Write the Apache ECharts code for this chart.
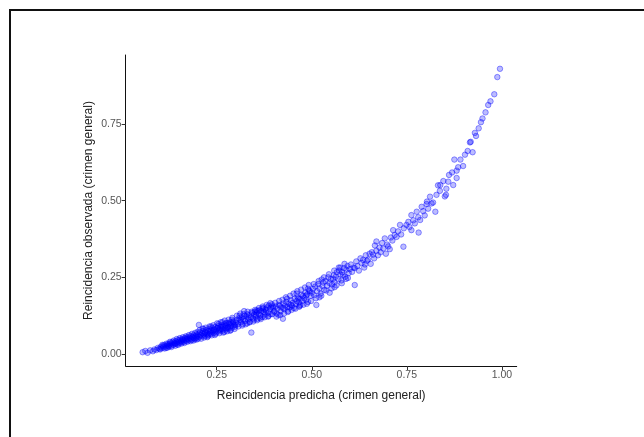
<!doctype html>
<html>
<head>
    <meta charset="utf-8">
    <title>Reincidencia</title>
    <style type="text/css">
        body, html {
            width: 100%;
            height: 100%;
            margin: 0;
            padding: 0;
            background: #fff;
        }
    </style>
</head>

<body>

<div id="container" style="width: 644px; height: 437px"></div>

<script type="text/javascript" src="https://fastly.jsdelivr.net/npm/echarts@6.0.0/dist/echarts.min.js"></script>

<script type="text/javascript">
    // tick labels
    const xTicks = [0.25, 0.5, 0.75, 1.0];
    const yTicks = [0, 0.25, 0.5, 0.75];

    // [predicha, observada]
    const pointsLow = [
        [0.055, 0.006], [0.062, 0.010], [0.068, 0.004], [0.075, 0.012], [0.082, 0.009], [0.086, 0.015],
        [0.091, 0.013], [0.095, 0.020], [0.099, 0.017], [0.103, 0.024],
        [0.105, 0.019], [0.108, 0.026], [0.110, 0.022], [0.112, 0.030], [0.115, 0.025], [0.117, 0.020],
        [0.120, 0.028], [0.122, 0.033], [0.124, 0.024], [0.126, 0.031], [0.128, 0.037], [0.130, 0.027],
        [0.132, 0.034], [0.134, 0.040], [0.136, 0.030], [0.138, 0.036], [0.140, 0.033], [0.142, 0.042],
        [0.144, 0.038], [0.146, 0.031], [0.148, 0.045], [0.150, 0.040], [0.152, 0.036], [0.154, 0.047],
        [0.156, 0.042], [0.158, 0.038], [0.160, 0.049], [0.162, 0.044], [0.164, 0.040], [0.166, 0.052],
        [0.168, 0.047], [0.170, 0.043], [0.172, 0.055], [0.174, 0.049], [0.176, 0.045], [0.178, 0.053],
        [0.180, 0.058], [0.182, 0.050], [0.184, 0.046], [0.186, 0.056], [0.188, 0.061], [0.190, 0.052],
        [0.192, 0.048], [0.194, 0.058], [0.196, 0.064], [0.198, 0.055], [0.200, 0.060], [0.201, 0.050],
        [0.203, 0.095],
        [0.101, 0.015], [0.107, 0.030], [0.113, 0.018], [0.118, 0.034], [0.121, 0.021], [0.127, 0.040],
        [0.131, 0.023], [0.137, 0.044], [0.141, 0.027], [0.145, 0.049], [0.149, 0.030], [0.153, 0.052],
        [0.157, 0.034], [0.161, 0.055], [0.165, 0.036], [0.169, 0.058], [0.173, 0.040], [0.177, 0.062],
        [0.181, 0.042], [0.185, 0.066], [0.189, 0.044], [0.193, 0.069], [0.197, 0.047], [0.199, 0.072],
        [0.143, 0.035], [0.159, 0.045], [0.171, 0.050], [0.187, 0.054], [0.195, 0.052], [0.123, 0.027]
    ];
    const pointsMid = [
        [0.202, 0.066], [0.204, 0.056], [0.206, 0.071], [0.208, 0.062], [0.210, 0.058], [0.212, 0.068],
        [0.214, 0.075], [0.216, 0.064], [0.218, 0.059], [0.220, 0.072], [0.222, 0.078], [0.224, 0.067],
        [0.226, 0.062], [0.228, 0.075], [0.230, 0.082], [0.232, 0.070], [0.234, 0.065], [0.236, 0.078],
        [0.238, 0.085], [0.240, 0.073], [0.242, 0.068], [0.244, 0.081], [0.246, 0.088], [0.248, 0.076],
        [0.250, 0.071], [0.252, 0.084], [0.254, 0.091], [0.256, 0.079], [0.258, 0.074], [0.260, 0.087],
        [0.262, 0.094], [0.264, 0.082], [0.266, 0.077], [0.268, 0.090], [0.270, 0.097], [0.272, 0.085],
        [0.274, 0.080], [0.276, 0.093], [0.278, 0.101], [0.280, 0.088], [0.282, 0.083], [0.284, 0.096],
        [0.286, 0.104], [0.288, 0.091], [0.290, 0.086], [0.292, 0.099], [0.294, 0.107], [0.296, 0.094],
        [0.298, 0.089], [0.300, 0.102], [0.215, 0.082], [0.235, 0.090], [0.255, 0.098], [0.270, 0.072],
        [0.285, 0.076], [0.245, 0.062], [0.225, 0.055], [0.265, 0.104], [0.290, 0.112], [0.275, 0.101],
        [0.205, 0.078], [0.209, 0.050], [0.213, 0.083], [0.217, 0.054], [0.221, 0.086], [0.227, 0.058],
        [0.231, 0.090], [0.237, 0.061], [0.241, 0.094], [0.247, 0.066], [0.251, 0.100], [0.257, 0.068],
        [0.261, 0.104], [0.267, 0.070], [0.271, 0.109], [0.277, 0.074], [0.281, 0.112], [0.287, 0.078],
        [0.291, 0.118], [0.297, 0.082], [0.219, 0.068], [0.233, 0.076], [0.243, 0.078], [0.253, 0.086],
        [0.263, 0.090], [0.273, 0.092], [0.283, 0.100], [0.293, 0.104], [0.229, 0.064], [0.259, 0.080],
        [0.279, 0.085], [0.299, 0.095],
        [0.302, 0.110], [0.305, 0.097], [0.308, 0.116], [0.311, 0.112], [0.313, 0.104], [0.316, 0.120],
        [0.318, 0.098], [0.320, 0.114], [0.323, 0.125], [0.325, 0.108], [0.328, 0.122], [0.330, 0.130],
        [0.332, 0.113], [0.335, 0.127], [0.337, 0.105], [0.340, 0.120], [0.341, 0.070], [0.343, 0.134],
        [0.345, 0.116], [0.348, 0.129], [0.350, 0.138], [0.352, 0.122], [0.355, 0.135], [0.357, 0.115],
        [0.360, 0.131], [0.362, 0.143], [0.365, 0.126], [0.367, 0.140], [0.370, 0.121], [0.372, 0.148],
        [0.375, 0.136], [0.377, 0.129], [0.380, 0.142], [0.382, 0.152], [0.385, 0.135], [0.387, 0.158],
        [0.390, 0.146], [0.392, 0.130], [0.395, 0.162], [0.397, 0.156], [0.400, 0.138], [0.310, 0.125],
        [0.330, 0.100], [0.355, 0.142], [0.370, 0.150], [0.385, 0.122], [0.398, 0.150], [0.348, 0.112],
        [0.364, 0.118], [0.378, 0.146],
        [0.303, 0.125], [0.307, 0.090], [0.312, 0.132], [0.317, 0.093], [0.321, 0.130], [0.326, 0.097],
        [0.331, 0.138], [0.336, 0.103], [0.342, 0.138], [0.346, 0.106], [0.351, 0.144], [0.356, 0.110],
        [0.361, 0.150], [0.366, 0.114], [0.371, 0.155], [0.376, 0.120], [0.381, 0.160], [0.386, 0.124],
        [0.391, 0.166], [0.396, 0.130], [0.314, 0.110], [0.334, 0.118], [0.353, 0.128], [0.373, 0.138],
        [0.393, 0.152], [0.322, 0.140], [0.358, 0.140],
        [0.402, 0.140], [0.405, 0.155], [0.408, 0.132], [0.410, 0.148], [0.413, 0.160], [0.416, 0.158],
        [0.418, 0.140], [0.420, 0.152], [0.424, 0.115], [0.425, 0.165], [0.428, 0.146], [0.430, 0.158],
        [0.433, 0.170], [0.436, 0.153], [0.438, 0.140], [0.440, 0.163], [0.442, 0.152], [0.445, 0.175],
        [0.448, 0.157], [0.450, 0.167], [0.453, 0.150], [0.455, 0.180], [0.458, 0.163], [0.460, 0.173],
        [0.463, 0.185], [0.466, 0.168], [0.468, 0.157], [0.470, 0.180], [0.473, 0.193], [0.475, 0.173],
        [0.477, 0.190], [0.480, 0.183], [0.483, 0.200], [0.485, 0.177], [0.488, 0.195], [0.490, 0.170],
        [0.493, 0.207], [0.495, 0.205], [0.497, 0.190], [0.500, 0.200], [0.435, 0.180], [0.460, 0.197],
        [0.470, 0.160], [0.490, 0.213], [0.412, 0.128],
        [0.404, 0.167], [0.407, 0.122], [0.414, 0.173], [0.417, 0.127], [0.423, 0.177], [0.427, 0.132],
        [0.432, 0.185], [0.437, 0.137], [0.443, 0.190], [0.447, 0.144], [0.452, 0.197], [0.457, 0.148],
        [0.462, 0.205], [0.467, 0.154], [0.472, 0.210], [0.478, 0.161], [0.482, 0.217], [0.487, 0.164],
        [0.492, 0.225], [0.498, 0.173], [0.425, 0.150], [0.445, 0.160], [0.465, 0.180], [0.485, 0.190]
    ];
    const pointsHigh = [
        [0.503, 0.212], [0.506, 0.192], [0.509, 0.220], [0.512, 0.160], [0.514, 0.205], [0.517, 0.228],
        [0.520, 0.214], [0.523, 0.197], [0.526, 0.243], [0.528, 0.222], [0.530, 0.233], [0.533, 0.209],
        [0.536, 0.238], [0.540, 0.223], [0.543, 0.250], [0.546, 0.232], [0.547, 0.200], [0.550, 0.244],
        [0.553, 0.227], [0.556, 0.245], [0.558, 0.257], [0.560, 0.234], [0.563, 0.252], [0.566, 0.267],
        [0.570, 0.244], [0.572, 0.272], [0.575, 0.260], [0.578, 0.240], [0.580, 0.267], [0.582, 0.258],
        [0.585, 0.280], [0.588, 0.252], [0.591, 0.275], [0.594, 0.287], [0.597, 0.264], [0.600, 0.277],
        [0.520, 0.185], [0.560, 0.218], [0.590, 0.245], [0.575, 0.282],
        [0.505, 0.228], [0.511, 0.182], [0.518, 0.238], [0.525, 0.190], [0.532, 0.250], [0.538, 0.207],
        [0.545, 0.260], [0.552, 0.214], [0.559, 0.272], [0.565, 0.224], [0.571, 0.282], [0.579, 0.231],
        [0.586, 0.294], [0.595, 0.248],
        [0.603, 0.292], [0.606, 0.268], [0.610, 0.282], [0.613, 0.280], [0.613, 0.225], [0.617, 0.302],
        [0.620, 0.287], [0.624, 0.272], [0.628, 0.312], [0.631, 0.297], [0.635, 0.307], [0.638, 0.282],
        [0.642, 0.322], [0.645, 0.304], [0.648, 0.308], [0.652, 0.327], [0.655, 0.294], [0.658, 0.332],
        [0.661, 0.324], [0.664, 0.312], [0.666, 0.354], [0.670, 0.337], [0.674, 0.322], [0.678, 0.347],
        [0.681, 0.332], [0.685, 0.362], [0.688, 0.344], [0.692, 0.377], [0.695, 0.327], [0.698, 0.357],
        [0.701, 0.351], [0.640, 0.292], [0.670, 0.367],
        [0.705, 0.342], [0.708, 0.380], [0.712, 0.370], [0.714, 0.404], [0.718, 0.388], [0.723, 0.382],
        [0.727, 0.400], [0.732, 0.421], [0.735, 0.390], [0.741, 0.350], [0.742, 0.410], [0.749, 0.421],
        [0.754, 0.431], [0.757, 0.414], [0.762, 0.453], [0.762, 0.404], [0.767, 0.436], [0.771, 0.426],
        [0.776, 0.464], [0.781, 0.396], [0.780, 0.446], [0.785, 0.437], [0.789, 0.480], [0.793, 0.466],
        [0.797, 0.452], [0.803, 0.497], [0.802, 0.489],
        [0.806, 0.474], [0.811, 0.513], [0.815, 0.491], [0.819, 0.494], [0.825, 0.464], [0.828, 0.519],
        [0.832, 0.550], [0.837, 0.532], [0.838, 0.551], [0.846, 0.564], [0.850, 0.514], [0.853, 0.519],
        [0.854, 0.539], [0.859, 0.562], [0.861, 0.584], [0.869, 0.592], [0.872, 0.551], [0.875, 0.634],
        [0.881, 0.598], [0.881, 0.574], [0.885, 0.609], [0.891, 0.634], [0.898, 0.613],
        [0.903, 0.650], [0.910, 0.662], [0.916, 0.690], [0.918, 0.692], [0.923, 0.658], [0.929, 0.721],
        [0.932, 0.711], [0.939, 0.736], [0.945, 0.756], [0.949, 0.768], [0.957, 0.788], [0.964, 0.812],
        [0.970, 0.824], [0.980, 0.847], [0.988, 0.903], [0.995, 0.930]
    ];

    const dom = document.getElementById('container');
    const myChart = echarts.init(dom, null, {
        renderer: 'canvas'
    });

    let option;

    const tickLabel = {
        color: '#555',
        fontSize: 10.5,
        fontFamily: 'Liberation Sans',
        formatter: function (v) { return v.toFixed(2); }
    };

    option = {
        animation: false,
        backgroundColor: '#fff',
        textStyle: { fontFamily: 'Liberation Sans' },
        grid: {
            left: 125.7,
            right: 127.3,
            top: 55,
            bottom: 71
        },
        // marco del recorte (solo arriba e izquierda)
        graphic: [
            { type: 'line', shape: { x1: 9.5, y1: 10, x2: 644, y2: 10 }, style: { stroke: '#111', lineWidth: 2 } },
            { type: 'line', shape: { x1: 10, y1: 9, x2: 10, y2: 437 }, style: { stroke: '#111', lineWidth: 2 } }
        ],
        xAxis: {
            type: 'value',
            min: 0.0105,
            max: 1.039,
            name: 'Reincidencia predicha (crimen general)',
            nameLocation: 'middle',
            nameGap: 24,
            nameMoveOverlap: false,
            nameTextStyle: { color: '#222', fontSize: 12 },
            axisLine: { show: true, onZero: false, lineStyle: { color: '#111', width: 1 } },
            axisTick: { show: true, length: 4, customValues: xTicks, lineStyle: { color: '#333' } },
            axisLabel: Object.assign({ margin: 4, customValues: xTicks }, tickLabel),
            splitLine: { show: false }
        },
        yAxis: {
            type: 'value',
            min: -0.039,
            max: 0.975,
            name: 'Reincidencia observada (crimen general)',
            nameLocation: 'middle',
            nameGap: 31,
            nameMoveOverlap: false,
            nameTextStyle: { color: '#222', fontSize: 12 },
            axisLine: { show: true, onZero: false, lineStyle: { color: '#111', width: 1 } },
            axisTick: { show: true, length: 4, customValues: yTicks, lineStyle: { color: '#333' } },
            axisLabel: Object.assign({ margin: 4, customValues: yTicks }, tickLabel),
            splitLine: { show: false }
        },
        series: [pointsLow, pointsMid, pointsHigh].map(function (d) {
            return {
                type: 'scatter',
                data: d,
                symbol: 'circle',
                symbolSize: 5.5,
                itemStyle: {
                    color: 'rgba(0,0,255,0.33)',
                    borderColor: 'rgba(0,0,255,0.5)',
                    borderWidth: 1
                }
            };
        })
    };

    if (option && typeof option === 'object') {
        myChart.setOption(option);
    }

    window.addEventListener('resize', myChart.resize);
</script>

</body>
</html>
